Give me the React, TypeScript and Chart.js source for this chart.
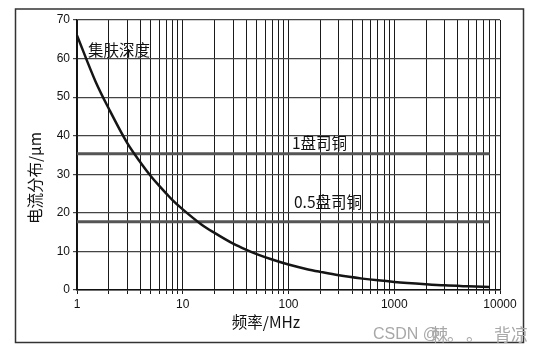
import React, { useEffect, useRef } from "react";
import { Chart, registerables } from "chart.js";

Chart.register(...registerables);

// Frequency (MHz) and skin depth (µm)
const freqs = [1, 1.5, 2, 3, 4, 5, 6, 7, 8, 10, 15, 20, 30, 40, 50, 70, 100, 150, 200, 300, 500, 700, 1000, 2000, 3000, 5000, 8000];
const skinDepth = [66, 54, 47, 38, 33, 29.5, 27, 25, 23.3, 20.9, 17, 14.8, 12, 10.4, 9.3, 7.9, 6.6, 5.4, 4.7, 3.8, 2.95, 2.5, 2.1, 1.5, 1.2, 0.95, 0.75];
const copperRange = [1, 8000];
const oz1Thickness = 35.3;
const oz05Thickness = 17.7;
const xTickValues = [
  1, 2, 3, 4, 5, 6, 7, 8, 9,
  10, 20, 30, 40, 50, 60, 70, 80, 90,
  100, 200, 300, 400, 500, 600, 700, 800, 900,
  1000, 2000, 3000, 4000, 5000, 6000, 7000, 8000, 9000,
  10000,
];
const yTickValues = [0, 10, 20, 30, 40, 50, 60, 70];

const CJK = '"Noto Sans CJK SC", "Liberation Sans", sans-serif';

const decorPlugin = {
  id: "decor",
  beforeDraw(chart: any) {
    const ctx = chart.ctx;
    ctx.save();
    ctx.fillStyle = "#ffffff";
    ctx.fillRect(0, 0, chart.width, chart.height);
    ctx.strokeStyle = "#333";
    ctx.lineWidth = 1.5;
    ctx.strokeRect(15.5, 9, 508, 333.5);
    ctx.restore();
  },
  afterDraw(chart: any) {
    const ctx = chart.ctx;
    ctx.save();
    ctx.fillStyle = "#111";
    ctx.textBaseline = "middle";
    ctx.font = `15.5px ${CJK}`;
    ctx.textAlign = "left";
    ctx.fillText("集肤深度", 88, 50);
    ctx.fillText("1盘司铜", 292, 143);
    ctx.fillText("0.5盘司铜", 294, 202);
    // axis titles
    ctx.font = `15.5px ${CJK}`;
    ctx.textAlign = "center";
    ctx.fillText("频率/MHz", 266, 322);
    ctx.save();
    ctx.translate(35, 178);
    ctx.rotate(-Math.PI / 2);
    ctx.fillText("电流分布/μm", 0, 0);
    ctx.restore();
    // watermark
    ctx.fillStyle = "#a8a8a8";
    ctx.textAlign = "left";
    ctx.font = `16px "Liberation Sans", sans-serif`;
    ctx.fillText("CSDN @", 373, 335);
    ctx.font = `17px ${CJK}`;
    ctx.fillText("棘", 431, 335);
    ctx.fillText("。", 447, 335);
    ctx.fillText("。", 466, 335);
    ctx.fillText("背凉", 494, 335);
    ctx.restore();
  },
};

export default function App() {
  const ref = useRef<HTMLCanvasElement | null>(null);

  useEffect(() => {
    if (!ref.current) return;
    const chart = new Chart(ref.current, {
      type: "line",
      data: {
        datasets: [
          {
            label: "集肤深度",
            data: freqs.map((f, i) => ({ x: f, y: skinDepth[i] })),
            borderColor: "#151515",
            borderWidth: 2.5,
            pointRadius: 0,
            cubicInterpolationMode: "monotone",
            fill: false,
          },
          {
            label: "1盘司铜",
            data: copperRange.map((f) => ({ x: f, y: oz1Thickness })),
            borderColor: "#555",
            borderWidth: 3,
            pointRadius: 0,
            fill: false,
          },
          {
            label: "0.5盘司铜",
            data: copperRange.map((f) => ({ x: f, y: oz05Thickness })),
            borderColor: "#555",
            borderWidth: 3,
            pointRadius: 0,
            fill: false,
          },
        ],
      },
      options: {
        animation: false,
        responsive: false,
        layout: { padding: { left: 0, top: 20, right: 51, bottom: 0 } },
        plugins: { legend: { display: false }, tooltip: { enabled: false } },
        scales: {
          x: {
            type: "logarithmic",
            min: 1,
            max: 10000,
            afterBuildTicks: (scale: any) => {
              scale.ticks = xTickValues.map((v) => ({ value: v }));
            },
            afterFit: (scale: any) => {
              scale.height = 63;
            },
            ticks: {
              autoSkip: false,
              maxRotation: 0,
              padding: 3,
              color: "#111",
              font: { family: "Liberation Sans", size: 12 },
              callback: (v: any) => {
                const l = Math.log10(Number(v));
                return Math.abs(l - Math.round(l)) < 1e-9 ? String(Number(v)) : "";
              },
            },
            grid: { color: "#1a1a1a", lineWidth: 1, tickLength: 4 },
            border: { color: "#111", width: 1.5 },
          },
          y: {
            type: "linear",
            min: 0,
            max: 70,
            afterBuildTicks: (scale: any) => {
              scale.ticks = yTickValues.map((v) => ({ value: v }));
            },
            afterFit: (scale: any) => {
              scale.width = 77;
            },
            ticks: {
              padding: 3,
              color: "#111",
              font: { family: "Liberation Sans", size: 12 },
            },
            grid: { color: "#444", lineWidth: 1.2, tickLength: 4 },
            border: { color: "#111", width: 1.5 },
          },
        },
      },
      plugins: [decorPlugin],
    } as any);
    return () => chart.destroy();
  }, []);

  return (
    <div style={{ position: "fixed", left: 0, top: 0, width: 551, height: 353, background: "#fff" }}>
      <canvas ref={ref} width={551} height={353} style={{ display: "block" }} />
    </div>
  );
}
